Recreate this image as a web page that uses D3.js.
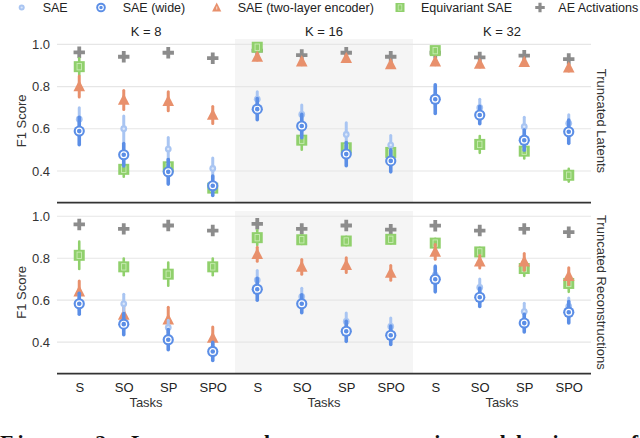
<!DOCTYPE html>
<html>
<head>
<meta charset="utf-8">
<script src="https://cdn.jsdelivr.net/npm/d3@7"></script>
<style>
  html, body { margin: 0; padding: 0; background: #fff; }
  svg { display: block; font-family: 'Liberation Sans', Arial, Helvetica, sans-serif; }
</style>
</head>
<body>
<svg id="chart" width="640" height="438"></svg>
<script>
// ---------------- DATA ----------------
const tasks = ["S", "SO", "SP", "SPO"];
const kValues = [8, 16, 32];
const yTicks = [0.4, 0.6, 0.8, 1.0];
const seriesNames = ["SAE", "SAE (wide)", "SAE (two-layer encoder)", "Equivariant SAE", "AE Activations"];
const panelNames = ["Truncated Latents", "Truncated Reconstructions"];

// order of each array: K=8 (S,SO,SP,SPO), K=16 (S,SO,SP,SPO), K=32 (S,SO,SP,SPO)
// Truncated Latents
const saeLat      = [0.645, 0.600, 0.504, 0.412, 0.740, 0.668, 0.573, 0.523, 0.750, 0.700, 0.610, 0.626];
const saeLatErr   = [0.055, 0.060, 0.055, 0.050, 0.035, 0.045, 0.055, 0.045, 0.050, 0.040, 0.045, 0.040];
const wideLat     = [0.589, 0.477, 0.396, 0.330, 0.693, 0.613, 0.480, 0.448, 0.740, 0.665, 0.546, 0.586];
const wideLatErr  = [0.065, 0.053, 0.058, 0.046, 0.050, 0.055, 0.055, 0.052, 0.068, 0.041, 0.048, 0.055];
const twoLat      = [0.800, 0.736, 0.730, 0.665, 0.940, 0.918, 0.934, 0.905, 0.918, 0.907, 0.915, 0.889];
const twoLatErr   = [0.050, 0.045, 0.045, 0.040, 0.015, 0.015, 0.015, 0.015, 0.015, 0.015, 0.015, 0.015];
const eqLat       = [0.894, 0.408, 0.420, 0.319, 0.986, 0.546, 0.510, 0.488, 0.970, 0.526, 0.494, 0.380];
const eqLatErr    = [0.040, 0.035, 0.040, 0.020, 0.010, 0.045, 0.030, 0.025, 0.012, 0.040, 0.035, 0.030];
const aeLat       = [0.962, 0.941, 0.960, 0.934, 0.970, 0.949, 0.960, 0.941, 0.960, 0.938, 0.946, 0.930];
const aeLatErr    = [0.004, 0.004, 0.004, 0.004, 0.004, 0.004, 0.004, 0.004, 0.004, 0.004, 0.004, 0.004];

// Truncated Reconstructions
const saeRec      = [0.590, 0.583, 0.470, 0.360, 0.696, 0.617, 0.499, 0.475, 0.720, 0.661, 0.546, 0.570];
const saeRecErr   = [0.040, 0.045, 0.035, 0.030, 0.045, 0.040, 0.040, 0.040, 0.045, 0.040, 0.040, 0.040];
const wideRec     = [0.583, 0.486, 0.412, 0.356, 0.652, 0.583, 0.452, 0.433, 0.700, 0.614, 0.491, 0.543];
const wideRecErr  = [0.050, 0.050, 0.048, 0.043, 0.052, 0.043, 0.048, 0.044, 0.060, 0.044, 0.042, 0.051];
const twoRec      = [0.641, 0.530, 0.507, 0.420, 0.819, 0.759, 0.767, 0.730, 0.830, 0.783, 0.783, 0.715];
const twoRecErr   = [0.050, 0.055, 0.060, 0.052, 0.033, 0.035, 0.035, 0.035, 0.035, 0.030, 0.040, 0.040];
const eqRec       = [0.814, 0.759, 0.724, 0.759, 0.898, 0.888, 0.882, 0.890, 0.872, 0.830, 0.751, 0.680];
const eqRecErr    = [0.065, 0.040, 0.055, 0.040, 0.035, 0.020, 0.020, 0.020, 0.020, 0.020, 0.035, 0.040];
const aeRec       = [0.961, 0.940, 0.956, 0.932, 0.964, 0.940, 0.956, 0.936, 0.955, 0.932, 0.940, 0.924];
const aeRecErr    = [0.004, 0.004, 0.004, 0.004, 0.004, 0.004, 0.004, 0.004, 0.004, 0.004, 0.004, 0.004];

// ---------------- STYLE ----------------
const FONT = "'Liberation Sans', Arial, Helvetica, sans-serif";
const colors = {
  sae: "#a9c5f2", wide: "#5b8ee6", two: "#e8906c", eq: "#90d06c", ae: "#8c8c8c"
};

const svg = d3.select("#chart");
const left = 57, right = 591;

const xOuter = d3.scaleBand().domain(kValues).range([left, right]).paddingInner(0).paddingOuter(0);
const xInner = d3.scalePoint().domain(tasks).range([0, xOuter.bandwidth()]).padding(0.5);

const panels = [
  { name: panelNames[0], top: 39, bottom: 202.7,
    data: [
      { key: "ae",   vals: aeLat,   err: aeLatErr },
      { key: "eq",   vals: eqLat,   err: eqLatErr },
      { key: "two",  vals: twoLat,  err: twoLatErr },
      { key: "sae",  vals: saeLat,  err: saeLatErr },
      { key: "wide", vals: wideLat, err: wideLatErr }
    ]},
  { name: panelNames[1], top: 211, bottom: 373.7,
    data: [
      { key: "ae",   vals: aeRec,   err: aeRecErr },
      { key: "eq",   vals: eqRec,   err: eqRecErr },
      { key: "two",  vals: twoRec,  err: twoRecErr },
      { key: "sae",  vals: saeRec,  err: saeRecErr },
      { key: "wide", vals: wideRec, err: wideRecErr }
    ]}
];

// marker drawing
function drawMarker(g, key, x, y) {
  if (key === "ae") {
    g.append("path")
      .attr("d", d3.symbol().type(d3.symbolCross).size(72)())
      .attr("transform", `translate(${x},${y})`)
      .attr("fill", colors.ae);
  } else if (key === "eq") {
    g.append("rect").attr("x", x - 5.5).attr("y", y - 5.5).attr("width", 11).attr("height", 11)
      .attr("fill", colors.eq);
    g.append("rect").attr("x", x - 2.2).attr("y", y - 3.2).attr("width", 4.4).attr("height", 6.4)
      .attr("fill", "none").attr("stroke", "#c9ecb4").attr("stroke-width", 0.9);
  } else if (key === "two") {
    g.append("path")
      .attr("d", `M${x},${y - 6.5} L${x + 5.8},${y + 4.8} L${x - 5.8},${y + 4.8} Z`)
      .attr("fill", colors.two);
  } else if (key === "sae") {
    g.append("circle").attr("cx", x).attr("cy", y).attr("r", 3.4).attr("fill", colors.sae);
    g.append("circle").attr("cx", x).attr("cy", y).attr("r", 1.2).attr("fill", "#dbe7fb");
  } else if (key === "wide") {
    g.append("circle").attr("cx", x).attr("cy", y).attr("r", 5.6).attr("fill", colors.wide);
    g.append("circle").attr("cx", x).attr("cy", y).attr("r", 2.9).attr("fill", "none")
      .attr("stroke", "#ffffff").attr("stroke-width", 1.2);
  }
}
const errWidth = { ae: 2, eq: 2.6, two: 3, sae: 3, wide: 3.6 };

panels.forEach((p, pi) => {
  const y = d3.scaleLinear().domain([0.25, 1.025]).range([p.bottom, p.top]);
  const g = svg.append("g");

  // shaded middle panel
  g.append("rect")
    .attr("x", xOuter(16)).attr("y", p.top)
    .attr("width", xOuter.bandwidth()).attr("height", p.bottom - p.top)
    .attr("fill", "#f5f5f5");

  // gridlines
  g.selectAll("line.grid").data(yTicks).enter().append("line")
    .attr("x1", left).attr("x2", right)
    .attr("y1", d => y(d)).attr("y2", d => y(d))
    .attr("stroke", "#e6e6e6").attr("stroke-width", 1.2);

  // y axis labels
  const yAxis = d3.axisLeft(y).tickValues(yTicks).tickFormat(d3.format(".1f")).tickSize(0).tickPadding(7);
  const ya = g.append("g").attr("transform", `translate(${left},0)`).call(yAxis);
  ya.select(".domain").remove();
  ya.selectAll("text").attr("font-size", 13).attr("fill", "#333").attr("font-family", FONT);

  // F1 Score label
  g.append("text")
    .attr("transform", `translate(26,${(p.top + p.bottom) / 2}) rotate(-90)`)
    .attr("text-anchor", "middle").attr("font-size", 13).attr("fill", "#333")
    .attr("font-family", FONT)
    .text("F1 Score");

  // right facet label
  g.append("text")
    .attr("transform", `translate(597,${(p.top + p.bottom) / 2}) rotate(90)`)
    .attr("text-anchor", "middle").attr("font-size", 13).attr("fill", "#333")
    .attr("font-family", FONT)
    .text(p.name);

  // series
  p.data.forEach(s => {
    const sg = g.append("g");
    s.vals.forEach((v, i) => {
      const k = kValues[Math.floor(i / tasks.length)];
      const t = tasks[i % tasks.length];
      const cx = xOuter(k) + xInner(t);
      const e = s.err[i];
      if (s.key !== "ae") {
        sg.append("line")
          .attr("x1", cx).attr("x2", cx)
          .attr("y1", y(v - e)).attr("y2", y(v + e))
          .attr("stroke", colors[s.key]).attr("stroke-width", errWidth[s.key])
          .attr("stroke-linecap", "round");
      }
      drawMarker(sg, s.key, cx, y(v));
    });
  });

  // bottom border line
  g.append("line").attr("x1", left).attr("x2", right)
    .attr("y1", p.bottom).attr("y2", p.bottom)
    .attr("stroke", "#333").attr("stroke-width", 1.8);
});

// K titles
svg.selectAll("text.ktitle").data(kValues).enter().append("text")
  .attr("x", d => xOuter(d) + xOuter.bandwidth() / 2)
  .attr("y", 35.5)
  .attr("text-anchor", "middle").attr("font-size", 13).attr("fill", "#222")
  .attr("font-family", FONT)
  .text(d => `K = ${d}`);

// x axes
kValues.forEach(k => {
  const xa = d3.axisBottom(xInner).tickSize(0).tickPadding(9);
  const ag = svg.append("g").attr("transform", `translate(${xOuter(k)},373.7)`).call(xa);
  ag.select(".domain").remove();
  ag.selectAll("text").attr("font-size", 13).attr("fill", "#222").attr("font-family", FONT);
  svg.append("text")
    .attr("x", xOuter(k) + xOuter.bandwidth() / 2).attr("y", 406.5)
    .attr("text-anchor", "middle").attr("font-size", 13).attr("fill", "#333")
    .attr("font-family", FONT)
    .text("Tasks");
});

// legend
const legendKeys = ["sae", "wide", "two", "eq", "ae"];
const legendMarkerX = [21.7, 101, 216.7, 400, 540];
const legendLabelX = [42.7, 122.7, 237.7, 421, 558.3];
const lg = svg.append("g");
legendKeys.forEach((key, i) => {
  const ly = 7.5;
  if (key === "sae") {
    lg.append("circle").attr("cx", legendMarkerX[i]).attr("cy", ly).attr("r", 3).attr("fill", colors.sae);
    lg.append("circle").attr("cx", legendMarkerX[i]).attr("cy", ly).attr("r", 1.1).attr("fill", "#dbe7fb");
  } else if (key === "wide") {
    lg.append("circle").attr("cx", legendMarkerX[i]).attr("cy", ly).attr("r", 4.8).attr("fill", colors.wide);
    lg.append("circle").attr("cx", legendMarkerX[i]).attr("cy", ly).attr("r", 2.3).attr("fill", "none")
      .attr("stroke", "#fff").attr("stroke-width", 1.1);
  } else if (key === "two") {
    const x = legendMarkerX[i];
    lg.append("path").attr("d", `M${x},${ly - 5} L${x + 4.6},${ly + 4} L${x - 4.6},${ly + 4} Z`).attr("fill", colors.two);
    lg.append("rect").attr("x", x - 0.6).attr("y", ly - 1).attr("width", 1.2).attr("height", 3).attr("fill", "#f6d0c0");
  } else if (key === "eq") {
    const x = legendMarkerX[i];
    lg.append("rect").attr("x", x - 4.5).attr("y", ly - 4.5).attr("width", 9).attr("height", 9).attr("fill", colors.eq);
    lg.append("rect").attr("x", x - 1.8).attr("y", ly - 2.6).attr("width", 3.6).attr("height", 5.2)
      .attr("fill", "none").attr("stroke", "#c9ecb4").attr("stroke-width", 0.8);
  } else {
    lg.append("path").attr("d", d3.symbol().type(d3.symbolCross).size(50)())
      .attr("transform", `translate(${legendMarkerX[i]},${ly})`).attr("fill", colors.ae);
  }
  lg.append("text").attr("x", legendLabelX[i]).attr("y", ly + 4.3)
    .attr("font-size", 12.5).attr("fill", "#222").attr("font-family", FONT)
    .text(seriesNames[i]);
});

// partially visible caption at the bottom (cut off in the reference too)
svg.append("text")
  .attr("x", 0).attr("y", 450)
  .attr("font-family", "'Liberation Serif', 'Times New Roman', serif")
  .attr("font-weight", "bold").attr("font-size", 22).attr("fill", "#111")
  .attr("textLength", 638).attr("lengthAdjust", "spacing")
  .text("Figure 2: Latent and reconstruction ablations of");
</script>
</body>
</html>
